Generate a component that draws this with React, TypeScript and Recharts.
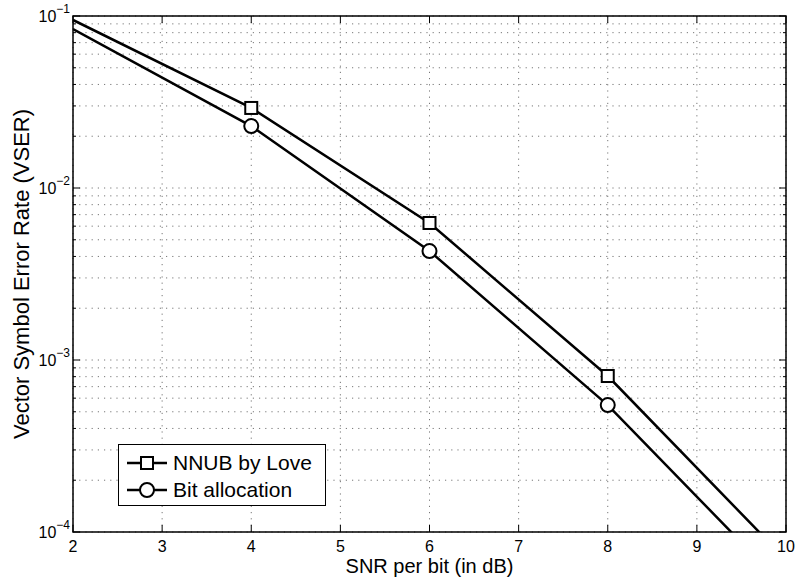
import React from "react";
import { LineChart, Line, XAxis, YAxis, CartesianGrid, ReferenceArea, Legend } from "recharts";

const snrDb = [2, 4, 6, 8, 10];
const nnubLove = [0.0948, 0.0292, 0.00626, 0.000807, 0.000069];
const bitAllocation = [0.084, 0.0229, 0.0043, 0.000547, 0.000047];
const markerSnr = [4, 6, 8];

const xTicks = [2, 3, 4, 5, 6, 7, 8, 9, 10];
const yMajor = [1e-4, 1e-3, 1e-2, 1e-1];
const yTicks = [
  1e-4, 2e-4, 3e-4, 4e-4, 5e-4, 6e-4, 7e-4, 8e-4, 9e-4,
  1e-3, 2e-3, 3e-3, 4e-3, 5e-3, 6e-3, 7e-3, 8e-3, 9e-3,
  1e-2, 2e-2, 3e-2, 4e-2, 5e-2, 6e-2, 7e-2, 8e-2, 9e-2,
  1e-1,
];

const data = snrDb.map((x, i) => ({ x, nnub: nnubLove[i], bit: bitAllocation[i] }));

const FONT = "'Liberation Sans', Arial, Helvetica, sans-serif";
const W = 798;
const H = 582;
const LEFT = 73;
const RIGHT = 786;
const TOP = 16;
const BOTTOM = 532;

function XTick(props: any) {
  const { x, payload } = props;
  return (
    <g>
      <line x1={x} x2={x} y1={BOTTOM} y2={BOTTOM - 7} stroke="#000" strokeWidth={1} />
      <line x1={x} x2={x} y1={TOP} y2={TOP + 7} stroke="#000" strokeWidth={1} />
      <text x={x} y={BOTTOM + 20} textAnchor="middle" fontSize={16} fontFamily={FONT} fill="#000">
        {payload.value}
      </text>
    </g>
  );
}

function YTick(props: any) {
  const { y, payload } = props;
  const v = payload.value;
  const exp = Math.round(Math.log10(v));
  const major = yMajor.some((m) => Math.abs(m - v) / m < 1e-6);
  const len = major ? 7 : 3;
  return (
    <g>
      <line x1={LEFT} x2={LEFT + len} y1={y} y2={y} stroke="#000" strokeWidth={1} />
      <line x1={RIGHT} x2={RIGHT - len} y1={y} y2={y} stroke="#000" strokeWidth={1} />
      {major && (
        <text x={70} y={y + 6} textAnchor="end" fontSize={16} fontFamily={FONT} fill="#000">
          <tspan>10</tspan>
          <tspan dy={-9} fontSize={12}>{"\u2212" + Math.abs(exp)}</tspan>
        </text>
      )}
    </g>
  );
}

function SquareDot(props: any) {
  const { cx, cy, payload } = props;
  if (!markerSnr.includes(payload.x)) return <g key={"s" + payload.x} />;
  return (
    <rect key={"s" + payload.x} x={cx - 6} y={cy - 6} width={12} height={12} fill="#fff" stroke="#000" strokeWidth={2} />
  );
}

function CircleDot(props: any) {
  const { cx, cy, payload } = props;
  if (!markerSnr.includes(payload.x)) return <g key={"c" + payload.x} />;
  return <circle key={"c" + payload.x} cx={cx} cy={cy} r={7} fill="#fff" stroke="#000" strokeWidth={2} />;
}

function LegendBox() {
  const rows = [
    { label: "NNUB by Love", shape: "square" },
    { label: "Bit allocation", shape: "circle" },
  ];
  return (
    <div
      style={{
        width: 208,
        height: 62,
        boxSizing: "border-box",
        border: "1.5px solid #000",
        background: "#fff",
        fontFamily: FONT,
        fontSize: 21,
        color: "#000",
        paddingTop: 4,
      }}
    >
      {rows.map((r) => (
        <div key={r.label} style={{ display: "flex", alignItems: "center", height: 27 }}>
          <svg width={54} height={20}>
            <line x1={8} x2={48} y1={10} y2={10} stroke="#000" strokeWidth={2.5} />
            {r.shape === "square" ? (
              <rect x={22} y={4} width={12} height={12} fill="#fff" stroke="#000" strokeWidth={2} />
            ) : (
              <circle cx={28} cy={10} r={7} fill="#fff" stroke="#000" strokeWidth={2} />
            )}
          </svg>
          <span style={{ lineHeight: "20px" }}>{r.label}</span>
        </div>
      ))}
    </div>
  );
}

export default function App() {
  return (
    <div style={{ position: "absolute", left: 0, top: 0, width: W, height: H, background: "#fff" }}>
      <LineChart width={W} height={H} data={data} margin={{ top: TOP, right: W - RIGHT, bottom: 0, left: 0 }}>
        <CartesianGrid stroke="#777" strokeDasharray="1.2 5" strokeWidth={1} />
        <XAxis
          dataKey="x"
          type="number"
          domain={[2, 10]}
          ticks={xTicks}
          allowDataOverflow
          height={H - BOTTOM}
          axisLine={false}
          tickLine={false}
          tick={<XTick />}
          interval={0}
          label={{
            content: () => (
              <text x={(LEFT + RIGHT) / 2} y={573} textAnchor="middle" fontSize={20} fontFamily={FONT} fill="#000">
                SNR per bit (in dB)
              </text>
            ),
          }}
        />
        <YAxis
          type="number"
          scale="log"
          domain={[1e-4, 1e-1]}
          ticks={yTicks}
          allowDataOverflow
          width={LEFT}
          axisLine={false}
          tickLine={false}
          tick={<YTick />}
          interval={0}
          label={{
            content: () => (
              <text
                transform={`translate(29, ${(TOP + BOTTOM) / 2}) rotate(-90)`}
                textAnchor="middle"
                fontSize={22}
                fontFamily={FONT}
                fill="#000"
              >
                Vector Symbol Error Rate (VSER)
              </text>
            ),
          }}
        />
        <Line
          type="linear"
          dataKey="nnub"
          stroke="#000"
          strokeWidth={2.5}
          dot={<SquareDot />}
          activeDot={false}
          isAnimationActive={false}
        />
        <Line
          type="linear"
          dataKey="bit"
          stroke="#000"
          strokeWidth={2.5}
          dot={<CircleDot />}
          activeDot={false}
          isAnimationActive={false}
        />
        <ReferenceArea x1={2} x2={10} y1={1e-4} y2={1e-1} fill="none" stroke="#000" strokeWidth={1.5} />
        <Legend
          layout="vertical"
          align="center"
          verticalAlign="middle"
          wrapperStyle={{ left: 118, top: 444, width: 208, height: 62 }}
          content={() => <LegendBox />}
        />
      </LineChart>
    </div>
  );
}
